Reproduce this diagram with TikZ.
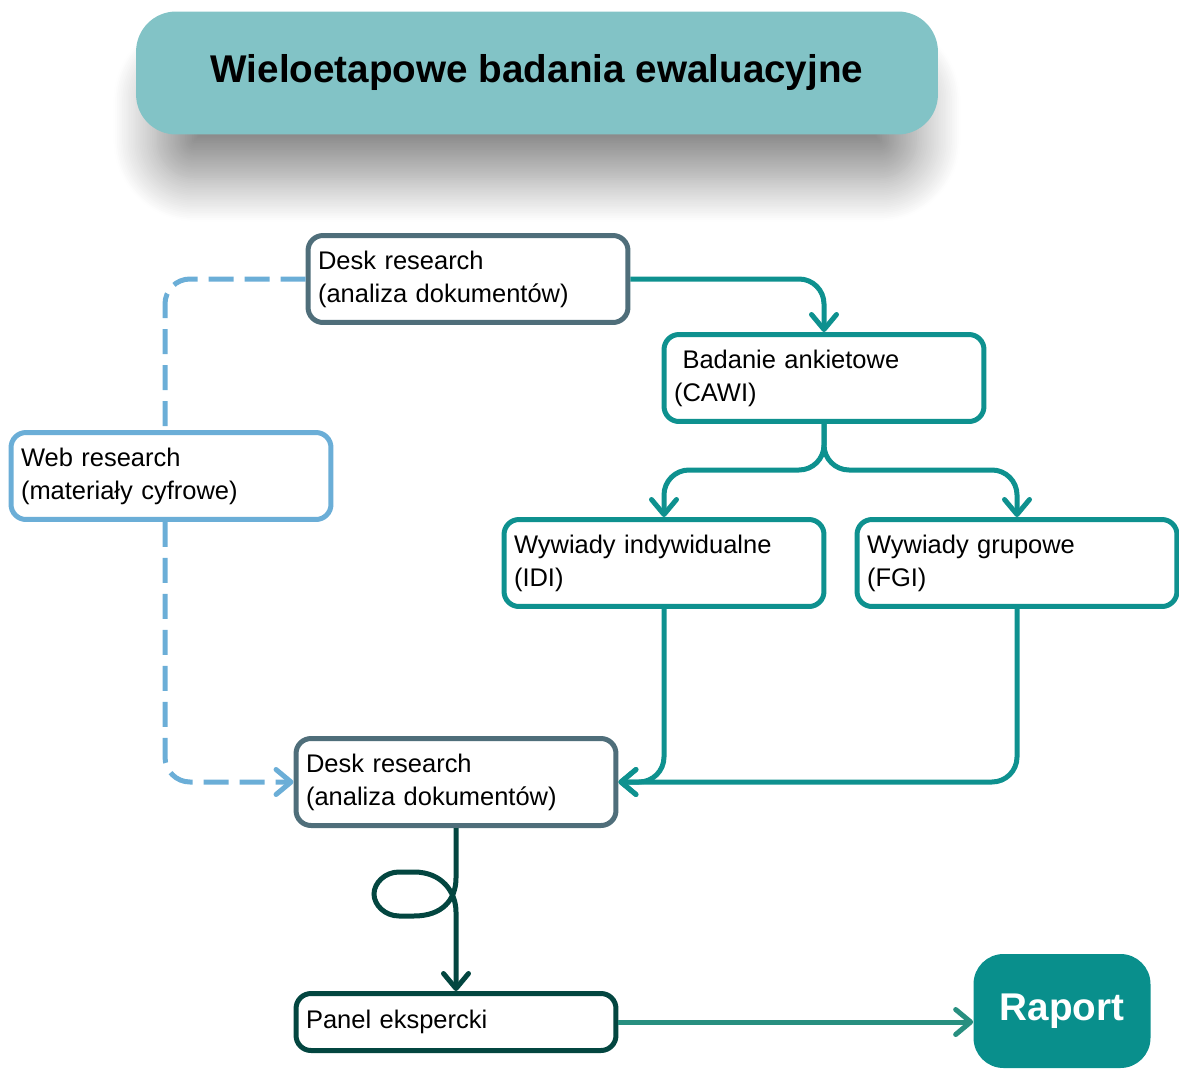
\documentclass[tikz,border=0pt]{standalone}
\usepackage{fontspec}
\setmainfont{Liberation Sans}
\usetikzlibrary{arrows.meta,shadows.blur}
\definecolor{titlecyan}{RGB}{130,195,198}
\definecolor{slategrey}{RGB}{79,110,122}
\definecolor{tealline}{RGB}{14,145,143}
\definecolor{webblue}{RGB}{107,174,215}
\definecolor{darkpine}{RGB}{3,70,64}
\definecolor{raportteal}{RGB}{9,143,140}
\definecolor{raportline}{RGB}{40,143,128}
\tikzset{
  tytul/.style={
    rounded corners=0.8cm,
    fill=titlecyan,
    minimum width=16.04cm,
    minimum height=2.46cm,
    font=\fontsize{22}{26}\selectfont\bfseries,
    blur shadow={shadow xshift=0cm,shadow yshift=-1cm,
      shadow blur radius=0.9cm,shadow blur steps=25,
      shadow opacity=45,shadow scale=0.95}
  },
  etap/.style={
    rounded corners=0.3cm,
    draw=tealline,
    line width=0.1cm,
    fill=white,
    align=left,
    text width=6.0cm,
    minimum width=6.4cm,
    minimum height=1.74cm,
    inner xsep=0.2cm,
    font=\fontsize{14.5}{18.7}\selectfont
  },
  raport/.style={
    rounded corners=0.6cm,
    fill=raportteal,
    text=white,
    minimum width=3.54cm,
    minimum height=2.28cm,
    font=\fontsize{22}{26}\selectfont\bfseries
  },
  strzalka/.style={
    -{Straight Barb[length=0.3cm,width=0.5cm,round]},
    line width=0.1cm,
    draw=tealline,
    rounded corners=0.5cm
  },
  przerywana/.style={
    line width=0.1cm,
    draw=webblue,
    dash pattern=on 0.5cm off 0.22cm,
    rounded corners=0.5cm
  }
}
\begin{document}
\begin{tikzpicture}[x=0.02cm,y=-0.02cm]
\useasboundingbox (0,0) rectangle (1179,1071);
% tytul
\node[tytul] (title) at (537,73) {Wieloetapowe badania ewaluacyjne};
% etapy badania
\node[etap,draw=slategrey] (desk1) at (468,279) {Desk research\\(analiza dokumentów)};
\node[etap] (cawi) at (824,378) {\ Badanie ankietowe\\(CAWI)};
\node[etap,draw=webblue] (web) at (171,476) {Web research\\(materiały cyfrowe)};
\node[etap] (idi) at (664,563) {Wywiady indywidualne\\(IDI)};
\node[etap] (fgi) at (1017,563) {Wywiady grupowe\\(FGI)};
\node[etap,draw=slategrey] (desk2) at (456,782) {Desk research\\(analiza dokumentów)};
\node[etap,draw=darkpine,minimum height=1.14cm] (panel) at (456,1022) {Panel ekspercki};
\node[raport] (raport) at (1062,1011) {Raport};
\coordinate (split) at (824,470);
% polaczenia
\draw[przerywana] (desk1.west) -| ([xshift=-0.12cm]web.north);
\draw[przerywana,-{Straight Barb[length=0.3cm,width=0.5cm,round]}] ([xshift=-0.12cm]web.south) |- (desk2.west);
\draw[strzalka] (desk1.east) -| (cawi.north);
\draw[strzalka] (cawi.south) -- (split) -| (idi.north);
\draw[strzalka] (cawi.south) -- (split) -| (fgi.north);
\draw[strzalka] (idi.south) |- (desk2.east);
\draw[strzalka] (fgi.south) |- (desk2.east);
\draw[strzalka,draw=darkpine,rounded corners=0pt] (desk2.south) -- ++(0,50)
  .. controls +(0,22) and +(28,0) .. ++(-42,38) -- ++(-15,0)
  .. controls +(-14,0) and +(0,11) .. ++(-25,-22)
  .. controls +(0,-11) and +(-14,0) .. ++(25,-22) -- ++(15,0)
  .. controls +(28,0) and +(0,-20) .. ++(42,40) -- (panel.north);
\draw[strzalka,draw=raportline,rounded corners=0pt] (panel.east) -- (panel.east -| raport.west);
\end{tikzpicture}
\end{document}
